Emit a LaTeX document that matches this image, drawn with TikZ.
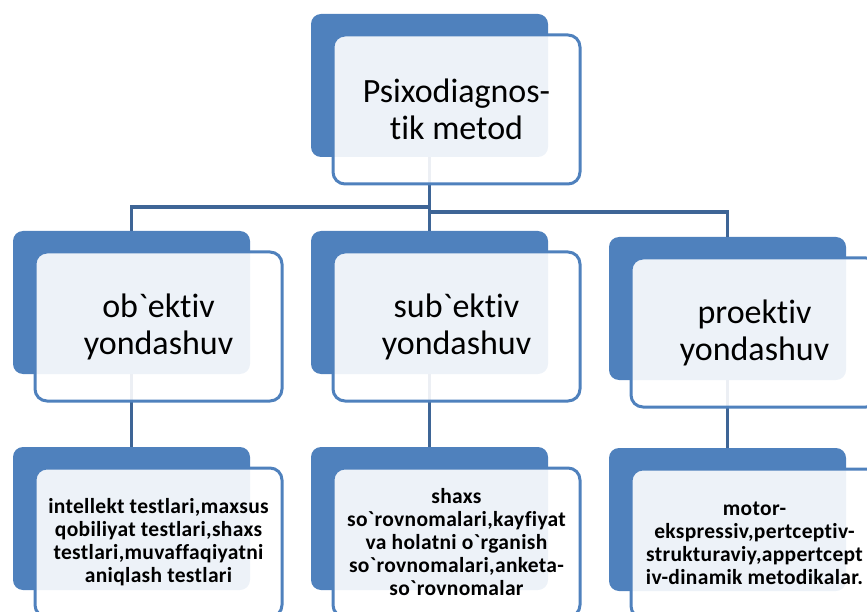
\documentclass[tikz,border=0pt]{standalone}
\usepackage{fontspec}
\newfontfamily\calfont{Carlito}[Ligatures=NoCommon]
\newfontfamily\calfontsp{Carlito}[Ligatures=NoCommon,LetterSpace=1.5]
\definecolor{accent}{HTML}{4F81BD}
\definecolor{connc}{HTML}{3E6596}
\begin{document}
\begin{tikzpicture}[x=1pt,y=-1pt,
  backbox/.style={fill=accent, rounded corners=10pt, minimum width=237pt, minimum height=143pt, inner sep=0pt, draw=none},
  frontbox/.style={draw=accent, line width=3pt, fill=white, fill opacity=0.9, text opacity=1, rounded corners=12pt, minimum width=247pt, minimum height=149pt, inner sep=0pt, align=center, text=black},
  bigtext/.style={font=\calfont\fontsize{34}{37}\selectfont},
  smalltext/.style={font=\calfontsp\bfseries\fontsize{21.5}{23}\selectfont},
  conn/.style={draw=connc, line width=3.5pt}]
\useasboundingbox (0,0) rectangle (867,612);
% back boxes
\node[backbox] (b0) at (429.5,85.5) {};
\node[backbox] (b1) at (131.5,302.5) {};
\node[backbox] (b2) at (429.5,302.5) {};
\node[backbox] (b3) at (727.5,308.5) {};
\node[backbox] (b4) at (131.5,518.5) {};
\node[backbox] (b5) at (429.5,518.5) {};
\node[backbox] (b6) at (727.5,519.5) {};
% connectors
\draw[conn] (b0.south) -- (b2.north);
\draw[conn] (b0.south |- 0,207) -| (b1.north);
\draw[conn] (b0.south |- 0,212) -| (b3.north);
\draw[conn] (b1.south) -- (b4.north);
\draw[conn] (b2.south) -- (b5.north);
\draw[conn] (b3.south) -- (b6.north);
% front boxes
\node[frontbox, bigtext] (f0) at (456.5,109.5) {Psixodiagnos-\\tik metod};
\node[frontbox, bigtext] (f1) at (158.5,326.5) {ob`ektiv\\yondashuv};
\node[frontbox, bigtext] (f2) at (456.5,326.5) {sub`ektiv\\yondashuv};
\node[frontbox, bigtext] (f3) at (754.5,332.5) {proektiv\\yondashuv};
\node[frontbox, smalltext] (f4) at (158.5,542.5) {intellekt testlari,maxsus\\qobiliyat testlari,shaxs\\testlari,muvaffaqiyatni\\aniqlash testlari};
\node[frontbox, smalltext] (f5) at (456.5,542.5) {shaxs\\so`rovnomalari,kayfiyat\\va holatni o`rganish\\so`rovnomalari,anketa-\\so`rovnomalar};
\node[frontbox, smalltext] (f6) at (754.5,543.5) {motor-\\ekspressiv,pertceptiv-\\strukturaviy,appertcept\\iv-dinamik metodikalar.};
\end{tikzpicture}
\end{document}
